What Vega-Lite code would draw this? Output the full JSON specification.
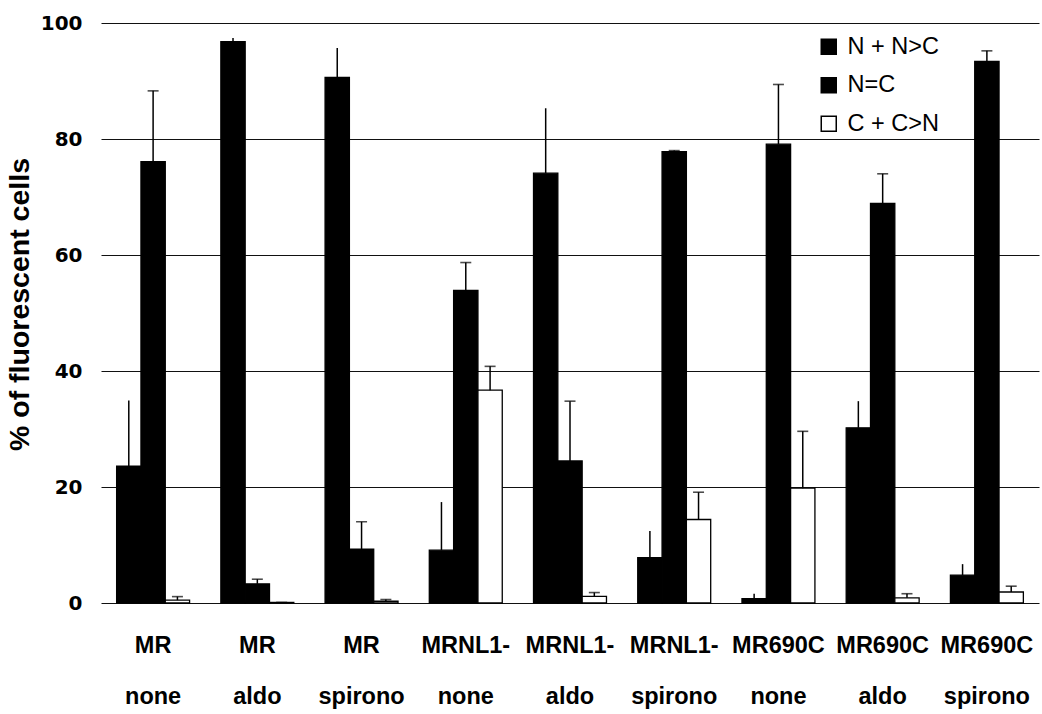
{
  "$schema": "https://vega.github.io/schema/vega-lite/v6.json",
  "width": 938,
  "height": 580,
  "autosize": {"type": "none"},
  "padding": {"left": 101, "top": 23, "right": 3, "bottom": 111},
  "background": "white",
  "config": {
    "view": {"stroke": null},
    "font": "Liberation Sans",
    "axis": {"ticks": false, "tickSize": 0, "domain": false, "labelColor": "black", "titleColor": "black"}
  },
  "data": {
    "values": [
      {"group": "MR none", "series": "N + N>C", "value": 23.6, "top": 34.9},
      {"group": "MR none", "series": "N=C", "value": 76.1, "top": 88.3},
      {"group": "MR none", "series": "C + C>N", "value": 0.5, "top": 1.1},
      {"group": "MR aldo", "series": "N + N>C", "value": 96.8, "top": 97.4},
      {"group": "MR aldo", "series": "N=C", "value": 3.3, "top": 4.1},
      {"group": "MR aldo", "series": "C + C>N", "value": 0.1, "top": 0.1},
      {"group": "MR spirono", "series": "N + N>C", "value": 90.6, "top": 95.7},
      {"group": "MR spirono", "series": "N=C", "value": 9.3, "top": 14.0},
      {"group": "MR spirono", "series": "C + C>N", "value": 0.3, "top": 0.6},
      {"group": "MRNL1- none", "series": "N + N>C", "value": 9.1, "top": 17.4},
      {"group": "MRNL1- none", "series": "N=C", "value": 53.9, "top": 58.7},
      {"group": "MRNL1- none", "series": "C + C>N", "value": 36.7, "top": 40.8},
      {"group": "MRNL1- aldo", "series": "N + N>C", "value": 74.1, "top": 85.3},
      {"group": "MRNL1- aldo", "series": "N=C", "value": 24.5, "top": 34.8},
      {"group": "MRNL1- aldo", "series": "C + C>N", "value": 1.15, "top": 1.8},
      {"group": "MRNL1- spirono", "series": "N + N>C", "value": 7.8, "top": 12.4},
      {"group": "MRNL1- spirono", "series": "N=C", "value": 77.8, "top": 78.0},
      {"group": "MRNL1- spirono", "series": "C + C>N", "value": 14.4, "top": 19.1},
      {"group": "MR690C none", "series": "N + N>C", "value": 0.75, "top": 1.6},
      {"group": "MR690C none", "series": "N=C", "value": 79.1, "top": 89.4},
      {"group": "MR690C none", "series": "C + C>N", "value": 19.8, "top": 29.6},
      {"group": "MR690C aldo", "series": "N + N>C", "value": 30.2, "top": 34.8},
      {"group": "MR690C aldo", "series": "N=C", "value": 68.9, "top": 74.0},
      {"group": "MR690C aldo", "series": "C + C>N", "value": 0.9, "top": 1.6},
      {"group": "MR690C spirono", "series": "N + N>C", "value": 4.8, "top": 6.7},
      {"group": "MR690C spirono", "series": "N=C", "value": 93.4, "top": 95.2},
      {"group": "MR690C spirono", "series": "C + C>N", "value": 1.9, "top": 2.9}
    ]
  },
  "encoding": {
    "x": {
      "field": "group",
      "type": "nominal",
      "sort": null,
      "scale": {"paddingInner": 0.3, "paddingOuter": 0.15},
      "axis": {
        "title": null,
        "grid": false,
        "labelExpr": "split(datum.label, ' ')",
        "labelAngle": 0,
        "labelFontSize": 23.5,
        "labelFontWeight": "bold",
        "labelLineHeight": 51,
        "labelBaseline": "alphabetic",
        "labelPadding": 49.5
      }
    },
    "xOffset": {
      "field": "series",
      "type": "nominal",
      "sort": ["N + N>C", "N=C", "C + C>N"],
      "scale": {"paddingInner": 0, "paddingOuter": 0}
    }
  },
  "layer": [
    {
      "mark": {"type": "bar", "stroke": "black", "strokeWidth": 1.3},
      "encoding": {
        "y": {
          "field": "value",
          "type": "quantitative",
          "title": "% of fluorescent cells",
          "scale": {"domain": [0, 100]},
          "axis": {
            "values": [0, 20, 40, 60, 80, 100],
            "title": "% of fluorescent cells",
            "titleFontSize": 28.5,
            "titleFontWeight": "bold",
            "titlePadding": 6,
            "titleY": 281,
            "labelFont": "DejaVu Sans",
            "labelFontSize": 20,
            "labelFontWeight": "bold",
            "labelPadding": 19,
            "grid": true,
            "gridColor": "#111111",
            "gridWidth": 1.2
          }
        },
        "fill": {
          "field": "series",
          "type": "nominal",
          "sort": ["N + N>C", "N=C", "C + C>N"],
          "scale": {"domain": ["N + N>C", "N=C", "C + C>N"], "range": ["#000000", "#000000", "#ffffff"]},
          "legend": {
            "title": null,
            "orient": "none",
            "legendX": 716,
            "legendY": 12,
            "padding": 0,
            "symbolType": "square",
            "symbolSize": 225,
            "symbolStrokeColor": "black",
            "symbolStrokeWidth": 1.5,
            "labelFontSize": 23.5,
            "labelColor": "black",
            "labelOffset": 7,
            "rowPadding": 13.5
          }
        }
      }
    },
    {
      "mark": {"type": "rule", "color": "black", "strokeWidth": 1.5},
      "encoding": {
        "y": {"field": "value", "type": "quantitative", "title": "% of fluorescent cells"},
        "y2": {"field": "top"}
      }
    },
    {
      "transform": [{"filter": "datum.series != 'N + N>C'"}],
      "mark": {"type": "tick", "color": "black", "size": 11, "thickness": 1.6},
      "encoding": {
        "y": {"field": "top", "type": "quantitative", "title": "% of fluorescent cells"}
      }
    }
  ]
}
